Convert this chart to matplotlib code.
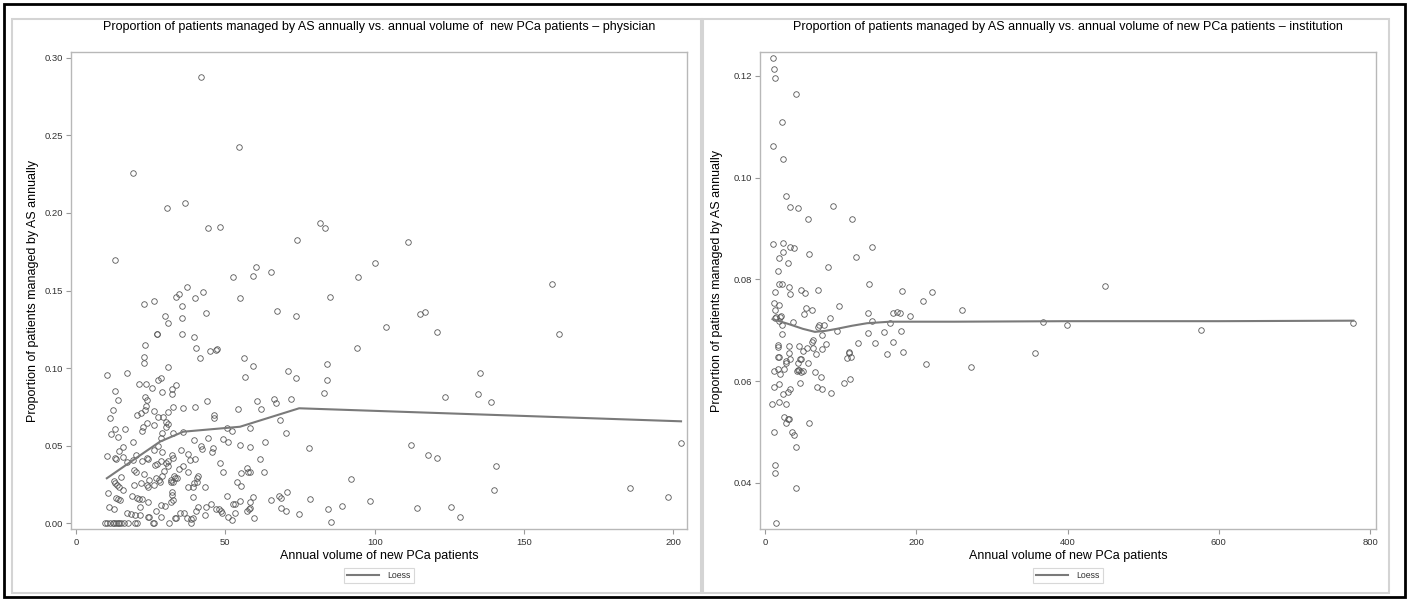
import matplotlib
matplotlib.use("Agg")
import matplotlib.pyplot as plt
from matplotlib.patches import Rectangle
from matplotlib.ticker import FormatStrFormatter

plt.rcParams['font.family'] = ['Liberation Sans', 'DejaVu Sans']

# ---------------- data: physician panel ----------------
phys_x = [
    42.0, 54.4, 19.2, 30.6, 36.6, 44.3, 48.3, 13.2, 74.1, 52.6, 59.3, 60.4, 65.2, 22.8, 26.2,
    33.4, 34.5, 37.2, 42.4, 35.6, 39.7, 54.9, 29.8, 35.4, 43.5, 67.2, 73.8, 81.6, 83.5, 111.1,
    100.1, 94.4, 85.1, 159.5, 115.2, 116.9, 103.8, 120.8, 161.8, 94.2, 59.3, 84.1, 71.1, 73.6,
    84.1, 135.3, 83.1, 60.5, 61.9, 66.4, 67.0, 72.0, 123.7, 134.7, 139.1, 68.4, 70.3, 58.3,
    58.3, 63.3, 77.9, 112.0, 117.8, 121.0, 140.5, 202.6, 61.7, 63.1, 58.3, 92.1, 139.9, 185.5,
    198.3, 59.4, 58.3, 58.3, 65.3, 67.8, 68.6, 70.7, 78.5, 68.6, 70.3, 74.5, 59.7, 84.3, 89.2,
    85.4, 98.6, 114.2, 125.6, 128.7,
    30.9, 27.2, 27.0, 35.4, 39.6, 23.2, 40.2, 44.9, 46.9, 47.3, 41.5, 22.8, 22.8, 30.9, 56.4,
    56.6, 10.4, 17.2, 21.1, 23.4, 25.5, 27.5, 28.5, 28.9, 32.0, 33.4, 32.0, 13.1, 14.0, 12.2,
    11.4, 13.0, 11.6, 14.1, 16.4, 23.2, 23.8, 23.3, 23.2, 21.7, 20.5, 23.9, 22.5, 22.2, 26.1,
    27.6, 29.0, 26.2, 30.0, 30.7, 30.1, 28.7, 28.5, 30.7, 32.3, 35.7, 39.9, 44.0, 32.4, 35.7,
    46.1, 46.1, 39.6, 44.3, 42.0, 42.3, 45.6, 46.0, 49.3, 51.0, 50.7, 52.3, 54.3, 54.8,
    10.3, 13.1, 13.3, 14.4, 15.7, 15.8, 17.0, 18.9, 19.1, 20.2, 19.5, 20.0, 22.2, 23.7, 24.0,
    26.0, 27.4, 28.9, 26.5, 27.0,
    9.8, 10.5, 11.4, 12.2, 12.7, 13.4, 14.0, 14.5, 15.2, 16.1, 17.5, 19.8, 20.3, 25.7, 26.1,
    31.1, 38.5,
    17.0, 18.3, 19.8, 21.4, 24.0, 24.4, 26.6, 28.4, 29.8, 28.6, 33.2, 33.4, 34.9, 36.2, 37.1,
    38.4, 39.3, 40.2, 41.0, 43.1, 43.4, 45.1, 46.9, 47.9, 48.5, 49.0, 50.5, 51.0, 52.3, 52.7,
    53.1, 53.2, 54.8, 57.2, 58.0, 10.8, 10.9, 12.6, 13.5, 14.0, 14.7, 15.1, 12.6, 13.1, 13.8,
    14.4, 15.6, 18.6, 20.3, 21.2, 22.0, 19.5, 21.4, 21.8, 22.8, 23.9, 24.0, 24.4, 24.2, 26.2,
    26.8, 27.7, 28.1, 28.9, 28.4, 30.0, 29.6, 30.7, 30.9, 32.1, 32.3, 31.9, 31.7, 32.4, 32.8,
    33.0, 32.0, 32.0, 32.3, 31.9, 33.9, 34.5, 35.2, 35.9, 37.4, 37.6, 38.2, 37.6, 39.3, 39.5,
    39.3, 39.9, 40.4, 41.0, 40.6, 43.1, 48.2, 49.1, 53.8, 55.4, 55.4, 57.2, 57.7,
]
phys_y = [
    0.2876, 0.2427, 0.2255, 0.2030, 0.2062, 0.1905, 0.1907, 0.1699, 0.1825, 0.1585, 0.1591,
    0.1653, 0.1619, 0.1413, 0.1434, 0.1460, 0.1477, 0.1523, 0.1492, 0.1402, 0.1450, 0.1454,
    0.1338, 0.1321, 0.1353, 0.1370, 0.1338, 0.1933, 0.1905, 0.1811, 0.1675, 0.1587, 0.1460,
    0.1544, 0.1349, 0.1360, 0.1263, 0.1231, 0.1222, 0.1130, 0.1012, 0.1028, 0.0981, 0.0936,
    0.0923, 0.0966, 0.0840, 0.0786, 0.0734, 0.0799, 0.0777, 0.0799, 0.0816, 0.0831, 0.0781,
    0.0666, 0.0582, 0.0616, 0.0494, 0.0524, 0.0483, 0.0505, 0.0440, 0.0421, 0.0371, 0.0519,
    0.0412, 0.0333, 0.0332, 0.0288, 0.0215, 0.0225, 0.0168, 0.0168, 0.0135, 0.0097, 0.0152,
    0.0178, 0.0161, 0.0204, 0.0155, 0.0097, 0.0077, 0.0058, 0.0036, 0.0090, 0.0110, 0.0010,
    0.0144, 0.0097, 0.0105, 0.0041,
    0.1293, 0.1218, 0.1222, 0.1220, 0.1202, 0.1149, 0.1132, 0.1110, 0.1117, 0.1125, 0.1067,
    0.1072, 0.1031, 0.1007, 0.1063, 0.0941, 0.0956, 0.0966, 0.0896, 0.0896, 0.0870, 0.0923,
    0.0934, 0.0846, 0.0863, 0.0891, 0.0833, 0.0852, 0.0792, 0.0732, 0.0678, 0.0606, 0.0575,
    0.0558, 0.0606, 0.0814, 0.0794, 0.0756, 0.0730, 0.0711, 0.0698, 0.0648, 0.0623, 0.0597,
    0.0724, 0.0683, 0.0683, 0.0631, 0.0653, 0.0640, 0.0623, 0.0584, 0.0548, 0.0719, 0.0752,
    0.0745, 0.0752, 0.0786, 0.0584, 0.0589, 0.0698, 0.0677, 0.0535, 0.0552, 0.0500, 0.0479,
    0.0461, 0.0483, 0.0543, 0.0526, 0.0616, 0.0595, 0.0736, 0.0505,
    0.0432, 0.0419, 0.0414, 0.0464, 0.0490, 0.0429, 0.0393, 0.0526, 0.0408, 0.0440, 0.0341,
    0.0331, 0.0401, 0.0419, 0.0412, 0.0472, 0.0498, 0.0457, 0.0376, 0.0382,
    0.0, 0.0, 0.0, 0.0, 0.0, 0.0, 0.0, 0.0, 0.0, 0.0, 0.0, 0.0, 0.0, 0.0, 0.0, 0.0, 0.0,
    0.0064, 0.0062, 0.0053, 0.0053, 0.0043, 0.0043, 0.0081, 0.0118, 0.0111, 0.0039, 0.0034,
    0.0034, 0.0064, 0.0064, 0.0032, 0.0026, 0.0032, 0.0081, 0.0107, 0.0053, 0.0107, 0.0122,
    0.0092, 0.0092, 0.0079, 0.0064, 0.0176, 0.0043, 0.0021, 0.0124, 0.0124, 0.0064, 0.0141,
    0.0081, 0.0092, 0.0197, 0.0103, 0.0090, 0.0163, 0.0157, 0.0150, 0.0296, 0.0273, 0.0258,
    0.0245, 0.0236, 0.0213, 0.0176, 0.0161, 0.0155, 0.0155, 0.0247, 0.0107, 0.0258, 0.0320,
    0.0247, 0.0236, 0.0279, 0.0139, 0.0247, 0.0290, 0.0279, 0.0268, 0.0307, 0.0399, 0.0391,
    0.0339, 0.0403, 0.0371, 0.0440, 0.0419, 0.0279, 0.0268, 0.0264, 0.0307, 0.0290, 0.0204,
    0.0182, 0.0150, 0.0135, 0.0290, 0.0350, 0.0470, 0.0369, 0.0328, 0.0445, 0.0408, 0.0232,
    0.0236, 0.0258, 0.0168, 0.0414, 0.0290, 0.0305, 0.0268, 0.0232, 0.0391, 0.0333, 0.0268,
    0.0322, 0.0243, 0.0354, 0.0328,
]
phys_loess_x = [10.3, 19.2, 28.1, 35.9, 54.9, 74.7, 202.6]
phys_loess_y = [0.0290, 0.0408, 0.0526, 0.0590, 0.0622, 0.0741, 0.0657]

# ---------------- data: institution panel ----------------
inst_x = [
    11.0, 12.3, 13.6, 40.6, 22.0, 11.0, 24.2, 27.8, 33.1, 44.0, 89.5, 56.9, 115.0, 10.6, 24.2,
    33.1, 38.7, 141.5, 23.4, 58.6, 120.7, 18.9, 30.8, 17.6, 83.3, 18.1, 22.5, 137.5, 12.8, 32.2,
    33.1, 47.2, 53.3, 70.1, 181.6, 220.8, 208.9, 12.3, 18.1, 98.2, 54.2, 61.7, 12.8, 136.6,
    168.8, 174.1, 178.5, 260.5, 192.1, 14.5, 21.2, 51.6, 85.9, 449.2, 367.2, 399.3, 576.1,
    777.5, 357.4, 272.8, 19.8, 18.9, 22.1, 22.5, 37.5, 69.7, 71.4, 78.0, 75.8, 95.6, 141.9,
    135.8, 157.8, 164.9, 179.8, 123.4, 145.0, 168.8, 161.7, 182.9, 212.9, 16.8, 16.8, 32.2,
    45.0, 32.2, 27.8, 27.8, 17.6, 18.9, 33.1, 11.9, 17.6, 19.8, 25.1, 43.6, 45.0, 46.3, 47.6,
    50.6, 55.1, 62.5, 63.1, 63.9, 57.3, 67.8, 75.4, 80.7, 41.9, 43.2, 47.2, 50.6, 66.1, 74.4,
    46.7, 11.9, 18.9, 23.4, 30.8, 33.1, 9.7, 18.5, 28.2, 69.2, 75.8, 86.9, 104.9, 112.4, 108.0,
    110.7, 111.5, 113.3, 25.1, 27.8, 30.8, 32.1, 11.9, 35.7, 38.7, 40.6, 57.8, 13.2, 13.6,
    40.6, 14.5, 12.9,
]
inst_y = [
    0.1236, 0.1213, 0.1196, 0.1165, 0.1110, 0.1063, 0.1037, 0.0964, 0.0943, 0.0941, 0.0944,
    0.0919, 0.0918, 0.0870, 0.0871, 0.0864, 0.0862, 0.0863, 0.0853, 0.0850, 0.0844, 0.0842,
    0.0833, 0.0817, 0.0824, 0.0792, 0.0792, 0.0792, 0.0775, 0.0785, 0.0771, 0.0779, 0.0774,
    0.0779, 0.0777, 0.0775, 0.0757, 0.0754, 0.0749, 0.0747, 0.0743, 0.0739, 0.0740, 0.0734,
    0.0735, 0.0736, 0.0734, 0.0739, 0.0728, 0.0726, 0.0729, 0.0732, 0.0725, 0.0788, 0.0717,
    0.0711, 0.0701, 0.0715, 0.0655, 0.0627, 0.0726, 0.0719, 0.0711, 0.0693, 0.0716, 0.0707,
    0.0711, 0.0711, 0.0690, 0.0699, 0.0718, 0.0694, 0.0697, 0.0715, 0.0698, 0.0675, 0.0675,
    0.0677, 0.0653, 0.0658, 0.0633, 0.0668, 0.0671, 0.0669, 0.0669, 0.0655, 0.0640, 0.0635,
    0.0647, 0.0648, 0.0644, 0.0620, 0.0625, 0.0614, 0.0624, 0.0636, 0.0623, 0.0643, 0.0643,
    0.0660, 0.0665, 0.0678, 0.0681, 0.0665, 0.0635, 0.0653, 0.0663, 0.0674, 0.0621, 0.0622,
    0.0619, 0.0621, 0.0619, 0.0609, 0.0597, 0.0588, 0.0595, 0.0574, 0.0578, 0.0584, 0.0556,
    0.0559, 0.0556, 0.0589, 0.0585, 0.0577, 0.0596, 0.0604, 0.0645, 0.0655, 0.0657, 0.0648,
    0.0529, 0.0517, 0.0525, 0.0525, 0.0500, 0.0500, 0.0494, 0.0470, 0.0518, 0.0435, 0.0420,
    0.0390, 0.0321, 0.0724,
]
inst_loess_x = [10, 30, 50, 66, 80, 95, 115, 135, 165, 250, 400, 600, 778]
inst_loess_y = [0.0722, 0.0713, 0.0703, 0.0697, 0.0699, 0.0703, 0.0709, 0.0714, 0.0717,
                0.0717, 0.0718, 0.0718, 0.0719]

phys_xticks = [0, 50, 100, 150, 200]
phys_yticks = [0.00, 0.05, 0.10, 0.15, 0.20, 0.25, 0.30]
inst_xticks = [0, 200, 400, 600, 800]
inst_yticks = [0.04, 0.06, 0.08, 0.10, 0.12]

title_phys = "Proportion of patients managed by AS annually vs. annual volume of  new PCa patients \u2013 physician"
title_inst = "Proportion of patients managed by AS annually vs. annual volume of new PCa patients \u2013 institution"
xlabel = "Annual volume of new PCa patients"
ylabel = "Proportion of patients managed by AS annually"

# ---------------- figure ----------------
W, H = 1408, 600
fig = plt.figure(figsize=(W / 100, H / 100), dpi=100)
fig.patch.set_facecolor('white')


def frac_rect(x0, y0, x1, y1):
    return (x0 / W, 1 - y1 / H, (x1 - x0) / W, (y1 - y0) / H)


# outer black border and panel borders
for (x0, y0, x1, y1, col, lw) in [
    (4, 4, 1405, 597, 'black', 2.0),
    (12, 19, 701, 593, '#d4d4d4', 1.5),
    (703, 19, 1389, 593, '#d4d4d4', 1.5),
]:
    l, b, w, h = frac_rect(x0, y0, x1, y1)
    fig.patches.append(Rectangle((l, b), w, h, transform=fig.transFigure,
                                 fill=False, edgecolor=col, linewidth=lw))

ax_top, ax_bot = 52, 529
ax_h = ax_bot - ax_top


def setup(ax, xs, ys, lx, ly, xlim, ylim, xticks, yticks, yfmt, title, ylab_x, ylab_y):
    ax.plot(xs, ys, linestyle='none', marker='o', markersize=4.0,
            markerfacecolor='none', markeredgecolor='#585858', markeredgewidth=0.6)
    ax.plot(lx, ly, color='#7a7a7a', linewidth=1.5, label='Loess')
    ax.set_xlim(*xlim)
    ax.set_ylim(*ylim)
    ax.set_xticks(xticks)
    ax.set_yticks(yticks)
    ax.yaxis.set_major_formatter(FormatStrFormatter(yfmt))
    for s in ax.spines.values():
        s.set_color('#b8b8b8')
        s.set_linewidth(1.0)
    ax.tick_params(direction='out', length=3.5, width=0.8, color='#9a9a9a',
                   labelsize=6.8, labelcolor='#333333')
    ax.tick_params(axis='x', pad=3)
    ax.tick_params(axis='y', pad=2)
    ax.text(0.5, 1 + (ax_top - 27) / ax_h, title, transform=ax.transAxes,
            ha='center', va='center', fontsize=9, color='black')
    ax.text(0.5, -(556 - ax_bot) / ax_h, xlabel, transform=ax.transAxes,
            ha='center', va='center', fontsize=9, color='black')
    ax.text(ylab_x, ylab_y, ylabel, transform=ax.transAxes, rotation=90,
            ha='center', va='center', fontsize=9, color='black')
    leg = ax.legend(loc='upper center', bbox_to_anchor=(0.5, -(568 - ax_bot) / ax_h),
                    fontsize=6.3, frameon=True, fancybox=False, handlelength=3.6,
                    borderpad=0.35, handletextpad=1.0, borderaxespad=0)
    leg.get_frame().set_edgecolor('#cfcfcf')
    leg.get_frame().set_linewidth(0.8)
    for t in leg.get_texts():
        t.set_color('#333333')


ax1 = fig.add_axes(frac_rect(71, ax_top, 687, ax_bot))
setup(ax1, phys_x, phys_y, phys_loess_x, phys_loess_y,
      (-1.7, 204.6), (-0.0037, 0.3037), phys_xticks, phys_yticks, '%.2f',
      title_phys, -(71 - 33) / 616, 0.5)

ax2 = fig.add_axes(frac_rect(760, ax_top, 1376, ax_bot))
setup(ax2, inst_x, inst_y, inst_loess_x, inst_loess_y,
      (-6.6, 807.9), (0.03096, 0.1247), inst_xticks, inst_yticks, '%.2f',
      title_inst, -(760 - 717) / 616, 0.52)

fig.savefig('out.png', dpi=100, facecolor='white')
